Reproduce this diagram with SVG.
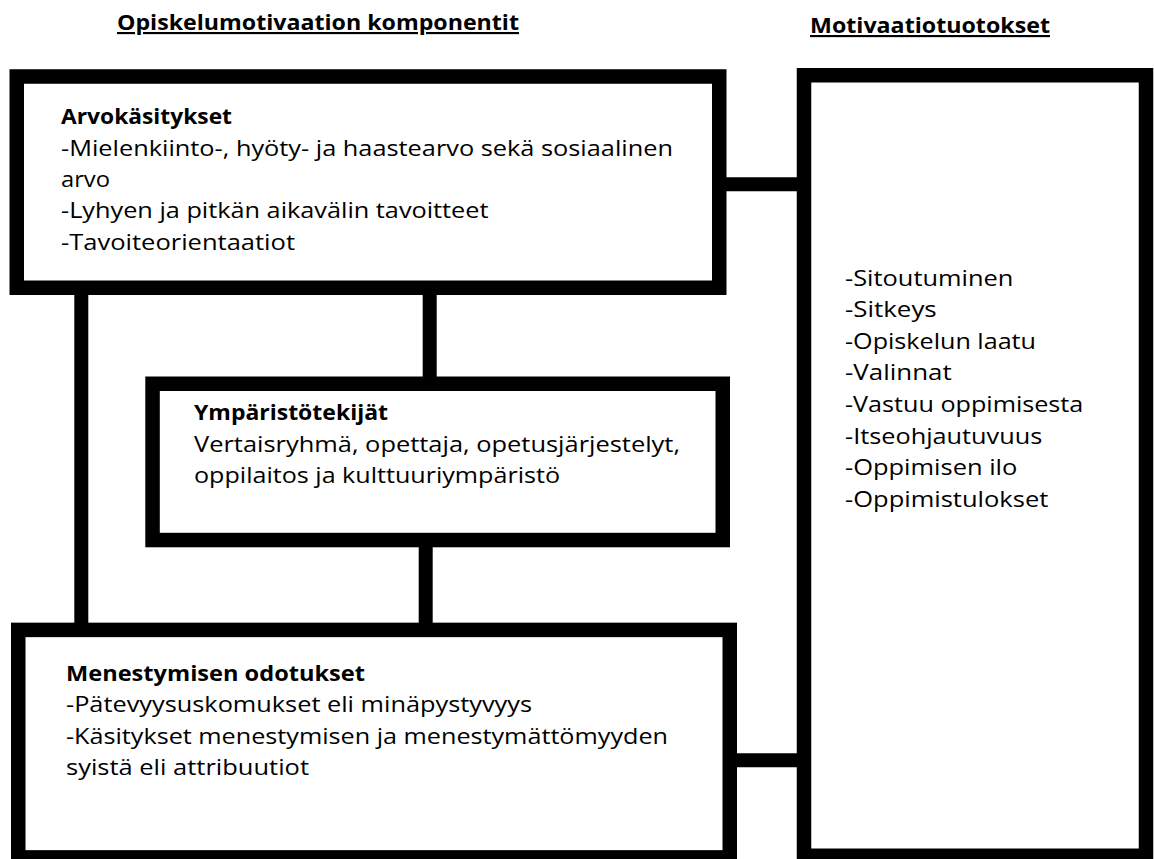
<svg xmlns="http://www.w3.org/2000/svg" width="1154" height="859" viewBox="0 0 1154 859">
<style>
  .box { fill: #ffffff; stroke: #000000; stroke-width: 14.5; }
  .conn { stroke: #000000; stroke-width: 14; fill: none; }
  text { font-family: "Open Sans", "Noto Sans", "Liberation Sans", sans-serif; font-size: 21.5px; fill: #000000; }
  .b { font-weight: bold; }
  .title { font-weight: bold; text-decoration: underline; }
</style>
<rect x="0" y="0" width="1154" height="859" fill="#ffffff"/>

<g id="titles">
  <text class="title" x="117" y="30" textLength="402" lengthAdjust="spacingAndGlyphs">Opiskelumotivaation komponentit</text>
  <text class="title" x="810" y="33" textLength="240" lengthAdjust="spacingAndGlyphs">Motivaatiotuotokset</text>
</g>

<g id="connectors">
  <line class="conn" x1="719" y1="184.2" x2="805" y2="184.2"/>
  <line class="conn" x1="81.3" y1="288" x2="81.3" y2="630"/>
  <line class="conn" x1="429.7" y1="288" x2="429.7" y2="384"/>
  <line class="conn" x1="425.7" y1="540" x2="425.7" y2="630"/>
  <line class="conn" x1="729" y1="760.3" x2="805" y2="760.3"/>
</g>

<g id="node-arvokasitykset">
  <rect class="box" x="16.75" y="76.5" width="702.5" height="211.25"/>
  <text class="b" x="61" y="124" textLength="171" lengthAdjust="spacingAndGlyphs">Arvokäsitykset</text>
  <text x="61" y="155.7" textLength="612" lengthAdjust="spacingAndGlyphs">-Mielenkiinto-, hyöty- ja haastearvo sekä sosiaalinen</text>
  <text x="61" y="186.8" textLength="49" lengthAdjust="spacingAndGlyphs">arvo</text>
  <text x="61" y="218.4" textLength="427.5" lengthAdjust="spacingAndGlyphs">-Lyhyen ja pitkän aikavälin tavoitteet</text>
  <text x="61" y="250" textLength="234" lengthAdjust="spacingAndGlyphs">-Tavoiteorientaatiot</text>
</g>

<g id="node-ymparistotekijat">
  <rect class="box" x="152.55" y="383.75" width="570.2" height="156.3"/>
  <text class="b" x="194" y="420" textLength="194" lengthAdjust="spacingAndGlyphs">Ympäristötekijät</text>
  <text x="194" y="452" textLength="486" lengthAdjust="spacingAndGlyphs">Vertaisryhmä, opettaja, opetusjärjestelyt,</text>
  <text x="194" y="483" textLength="366" lengthAdjust="spacingAndGlyphs">oppilaitos ja kulttuuriympäristö</text>
</g>

<g id="node-menestymisen-odotukset">
  <rect class="box" x="18.25" y="629.9" width="711.5" height="227.5"/>
  <text class="b" x="66" y="680.7" textLength="299" lengthAdjust="spacingAndGlyphs">Menestymisen odotukset</text>
  <text x="66" y="712.3" textLength="466" lengthAdjust="spacingAndGlyphs">-Pätevyysuskomukset eli minäpystyvyys</text>
  <text x="66" y="744" textLength="602" lengthAdjust="spacingAndGlyphs">-Käsitykset menestymisen ja menestymättömyyden</text>
  <text x="66" y="775.3" textLength="243" lengthAdjust="spacingAndGlyphs">syistä eli attribuutiot</text>
</g>

<g id="node-motivaatiotuotokset">
  <rect class="box" x="804" y="75.25" width="342" height="780.5"/>
  <text x="845" y="285.5" textLength="168.3" lengthAdjust="spacingAndGlyphs">-Sitoutuminen</text>
  <text x="845" y="317.1" textLength="91.7" lengthAdjust="spacingAndGlyphs">-Sitkeys</text>
  <text x="845" y="348.7" textLength="191" lengthAdjust="spacingAndGlyphs">-Opiskelun laatu</text>
  <text x="845" y="380.3" textLength="106.7" lengthAdjust="spacingAndGlyphs">-Valinnat</text>
  <text x="845" y="411.9" textLength="238.3" lengthAdjust="spacingAndGlyphs">-Vastuu oppimisesta</text>
  <text x="845" y="443.5" textLength="197.3" lengthAdjust="spacingAndGlyphs">-Itseohjautuvuus</text>
  <text x="845" y="475.1" textLength="172.3" lengthAdjust="spacingAndGlyphs">-Oppimisen ilo</text>
  <text x="845" y="506.7" textLength="203.3" lengthAdjust="spacingAndGlyphs">-Oppimistulokset</text>
</g>
</svg>
